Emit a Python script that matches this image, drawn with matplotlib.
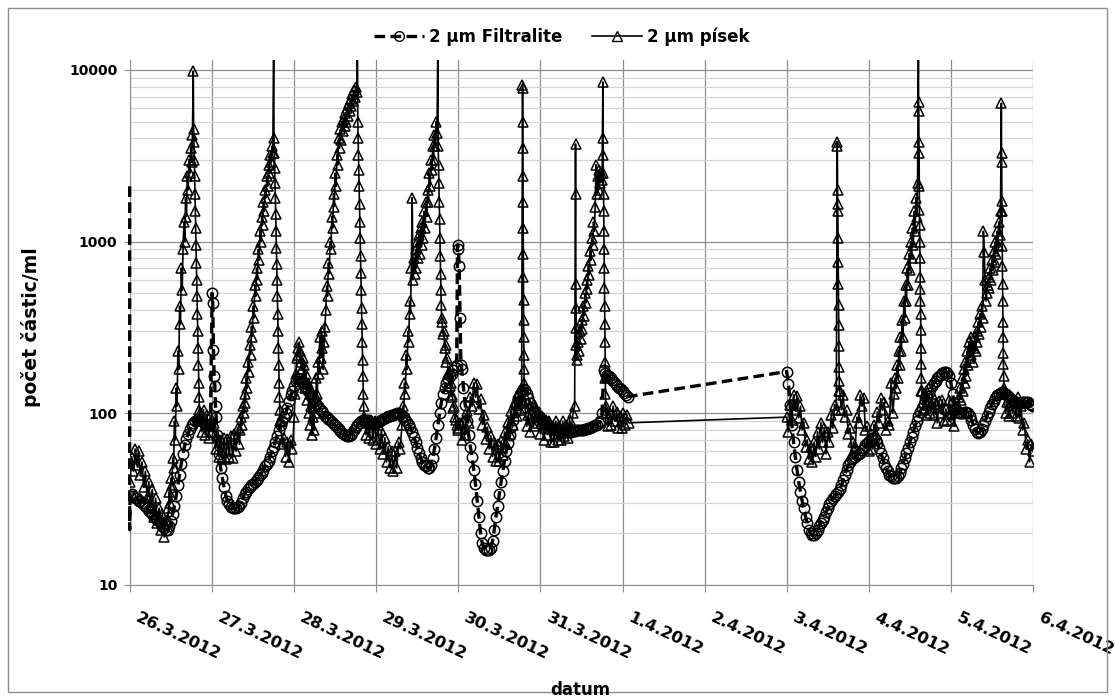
import numpy as np
import matplotlib
matplotlib.use('Agg')
import matplotlib.pyplot as plt
from matplotlib.patches import Rectangle
from matplotlib.lines import Line2D
from matplotlib.ticker import LogLocator, NullFormatter
from matplotlib.transforms import ScaledTranslation

plt.rcParams['font.family'] = ['DejaVu Sans']
plt.rcParams['font.weight'] = 'bold'

# time axis: hours from 26.3.2012 0:00
day_hours = [0, 24, 48, 72, 96, 120, 144, 168, 192, 216, 240, 264]
day_labels = ['26.3.2012', '27.3.2012', '28.3.2012', '29.3.2012', '30.3.2012', '31.3.2012',
              '1.4.2012', '2.4.2012', '3.4.2012', '4.4.2012', '5.4.2012', '6.4.2012']

# (start hour, step in minutes, values)
filtralite_seg = [
    (-0.1, 0, [2100, 21]),
    (0.0, 30, [33, 34, 33, 32, 32, 31, 31, 30, 30, 29, 28, 27, 26.5, 26, 25, 24.5, 24, 23.5, 23, 22,
               21.5, 21, 21, 22, 23.5, 26, 29, 33, 38, 44, 51, 58, 65, 71, 76, 81, 85, 88, 90, 92,
               92, 91, 90, 88, 87, 86, 85, 85]),
    (24.0, 12, [500, 440, 235, 165, 145, 110, 95]),
    (25.5, 30, [75, 58, 48, 42, 37, 33, 31, 29.5, 28.5, 28, 28, 28, 28.5, 29, 30, 32, 34, 35, 36, 37,
                38, 39, 40, 41, 42, 44, 45, 47, 49, 51, 53, 56, 60, 64, 68, 74, 80, 86, 90, 95,
                100, 108, 118, 128, 135,
                145, 155, 160, 158, 155, 150, 145, 140, 135, 130, 126, 122, 118, 114, 110, 106, 103, 100, 97, 95,
                93, 91, 89, 87, 85, 83, 81, 79, 77, 76, 75, 74, 74, 75, 77, 80, 83, 86, 88, 90,
                91, 92, 92, 91, 90, 89, 88, 88,
                88, 89, 90, 92, 93, 94, 95, 96, 97, 98, 98, 99, 100, 100, 99, 97, 95, 92, 89, 86,
                82, 78, 73, 68, 63, 59, 55, 52, 50, 49, 48, 48, 50, 55, 62, 72, 85, 100, 115, 130,
                140, 150, 158, 165, 170, 178, 185, 190]),
    (95.75, 15, [960, 900, 720, 360, 190, 180]),
    (97.5, 30, [140, 112, 90, 75, 64, 56, 47, 39, 31, 25, 20, 17.5, 16.5, 16, 16, 16, 16.5, 18, 21, 25,
                29, 34, 40, 46, 53, 60, 67, 75, 83, 92, 102, 112, 122, 130, 135, 138, 136, 130, 122, 115,
                108, 103, 100, 98, 96, 94, 92, 90, 88, 86, 84, 83, 82, 81, 80, 80, 79, 79, 78, 78,
                78, 78, 78, 78, 79, 79, 80, 80, 80, 80, 80, 81, 81, 82, 82, 83, 84, 85, 86, 88, 90]),
    (138.0, 30, [100, 178, 172, 168, 165, 160, 156, 152, 148, 145, 141, 138, 135, 132, 128, 125]),
    (192.0, 30, [175, 148, 112, 85, 68, 56, 47, 40, 35, 31, 28, 25, 23, 21, 20, 19.5, 19.5, 20, 21, 22,
                 23, 24, 25, 26.5, 28, 29.5, 31, 32, 33, 34, 35, 36, 38, 41, 44, 47, 50, 52, 54, 55,
                 56, 57, 58, 59, 61, 63, 65, 67, 69, 71, 72, 72, 70, 67, 63, 59, 55, 51, 48, 46,
                 44, 43, 42, 42, 42, 43, 45, 48, 51, 55, 59, 63, 68, 73, 78, 84, 90, 96, 102, 108,
                 114, 120, 126, 132, 138, 144, 150, 155, 160, 164, 168, 171, 173, 174, 172, 165, 150, 130, 115, 106,
                 102, 100, 100, 101, 102, 102, 100, 97, 92, 86, 81, 78, 77, 78, 81, 85, 90, 96, 102, 108,
                 113, 118, 123, 127, 130, 132, 133, 132, 130, 127, 124, 121, 119, 117, 116, 115, 115, 115, 116, 117,
                 117, 116, 114, 112, 110]),
]

pisek_seg = [
    (0.0, 30, [40, 56, 46, 62, 50, 60, 44, 52, 37, 46, 32, 40, 29, 36, 25, 32, 23, 28, 21, 26, 19, 24]),
    (11.0, 15, [24, 28, 35, 30, 42, 38, 55, 48, 90, 70, 140, 110, 230, 180, 420, 330, 700, 520, 900, 1300,
                1000, 1800, 1400, 2400, 2000, 3000, 2500, 3500, 2900, 4200]),
    (18.5, 6, [9800, 4500, 3800, 3000, 2400, 1900, 1500, 1200, 950, 750, 600, 480, 380, 300, 240, 190,
               150, 125, 105, 95]),
    (20.5, 30, [100, 78, 105, 75, 98, 72, 96, 78, 88, 62, 74, 56, 70, 55, 72, 54, 71, 56, 74, 55, 76, 60, 82, 66]),
    (32.25, 15, [80, 95, 85, 110, 100, 130, 115, 160, 140, 200, 175, 250, 220, 320, 280, 420, 360, 560, 480,
                 700, 600, 900, 780, 1150, 1000, 1400, 1250, 1700, 1500, 2000, 1800, 2400, 2100, 2800, 2500,
                 3200, 2900, 3600, 3300]),
    (42.0, 6, [15000, 4000, 3300, 2700, 2200, 1800, 1450, 1150, 920, 740, 600, 480, 380, 300, 240, 190,
               150, 125, 105, 90]),
    (44.0, 30, [90, 66, 72, 56, 68, 52, 70, 62, 95]),
    (48.25, 15, [130, 170, 210, 240, 220, 260, 230, 200, 180, 210, 160, 190, 140, 170, 120, 150, 100, 130,
                 85, 110, 75, 95, 80, 120, 100, 160, 130, 200, 170, 280, 210, 300, 240, 180, 260, 320]),
    (57.25, 15, [400, 550, 480, 750, 650, 1000, 900, 1400, 1200, 1900, 1600, 2500, 2100, 3200, 2800, 4000,
                 3500, 4500, 3900, 5000, 4400, 5200, 4700, 5600, 5000, 6000, 5400, 6400, 5800, 6800, 6200,
                 7200, 6600, 7600, 7000, 8000, 7400]),
    (66.5, 6, [14000, 5000, 4000, 3200, 2600, 2100, 1650, 1300, 1050, 830, 660, 520, 410, 330, 260, 205,
               165, 130, 110, 95]),
    (68.5, 30, [95, 75, 88, 72, 92, 70, 90, 66, 85, 62, 80, 58, 72, 52, 64, 48, 60, 46, 60, 48, 68, 62, 85]),
    (79.75, 15, [110, 95, 150, 130, 220, 180, 300, 260, 450, 380, 700, 1800, 600, 800, 650, 900, 700, 1000,
                 800, 1100, 850, 1200, 950, 1300, 1050, 1500, 1200, 1700, 1400, 2000, 1700, 2500, 2100, 3000,
                 2600, 3600, 3000, 4200, 3600, 5000, 4300]),
    (90.0, 6, [14000, 3600, 2800, 2200, 1700, 1350, 1050, 820, 650, 520, 430, 360]),
    (91.25, 15, [340, 290, 300, 240, 250, 200, 210, 170, 175, 145, 150, 125, 128, 108, 110, 95, 92, 85, 82, 80]),
    (96.5, 30, [88, 70, 90, 75, 103, 88, 125, 110, 150, 124, 148, 106, 121, 86, 98, 71, 83, 62, 74, 56,
                68, 53, 66, 53, 69, 57, 78, 66, 89, 76, 103, 86, 116, 97, 128, 104, 120]),
    (114.75, 2, [8200, 7800, 5000, 3500, 2400, 1700, 1200, 850, 620, 460, 350, 280, 220, 180, 150, 130, 115]),
    (115.5, 30, [108, 84, 98, 78, 100, 84, 110, 88, 102, 76, 90, 70, 92, 75, 90, 68, 84, 68, 90, 70, 84, 70,
                 90, 74, 86, 72, 92, 80, 100, 110]),
    (130.25, 3, [3700, 1900, 570, 410, 315, 250, 205]),
    (130.75, 15, [220, 260, 230, 300, 270, 350, 310, 420, 370, 500, 440, 600, 530, 720, 640, 880, 780, 1050,
                  950, 1300, 1150, 1600, 2800, 1900, 2400, 2000, 2600, 2200, 2500, 2300]),
    (138.25, 3, [8500, 4000, 3200, 2500, 1900, 1500, 1150, 900, 700, 540, 420, 330, 260, 200, 160, 130, 110, 100]),
    (139.25, 30, [104, 84, 100, 86, 110, 90, 102, 82, 96, 82, 100, 86, 98, 88]),
    (192.0, 30, [95, 78, 112, 92, 128, 104, 126, 94, 110, 80, 88, 64, 70, 54, 64, 52, 68, 56, 78, 62, 88, 68,
                 82, 58, 78, 68, 98, 82, 112, 105]),
    (206.75, 3, [3800, 3600, 2000, 1650, 1500, 1050, 760, 570, 430, 325, 245, 185, 155, 135]),
    (207.5, 30, [135, 105, 128, 95, 104, 76, 82, 58, 68, 62, 95, 88, 128, 110, 122, 80, 84, 60, 72, 62, 86,
                 76, 102, 88, 122, 104, 116, 80, 90, 85, 150, 100, 130]),
    (223.75, 15, [160, 140, 190, 160, 230, 190, 280, 230, 350, 280, 450, 360, 560, 450, 700, 560, 850, 680,
                  1000, 800, 1200, 950, 1500, 1150, 1800, 1400, 2200]),
    (230.5, 3, [14000, 6500, 5800, 3800, 3300, 2100, 1520, 1250, 1000, 800, 625, 530, 450, 380, 305, 240,
                195, 160, 135]),
    (231.5, 30, [135, 104, 132, 98, 118, 100, 130, 98, 114, 88, 118, 100, 120, 90, 106, 92, 120, 90, 106,
                 84, 110, 100, 125]),
    (242.75, 15, [140, 120, 160, 135, 180, 150, 200, 165, 230, 190, 260, 210, 280, 220, 250, 200, 240, 280,
                  230, 300, 260, 340, 290, 380, 320, 420, 360, 1150, 870, 600, 450, 500, 560, 620, 540, 700,
                  600, 780, 680, 880, 760, 1000, 850, 1150, 950, 1300, 1100, 1500]),
    (254.75, 3, [6400, 3300, 2900, 1730, 1500, 940, 720, 570, 450, 340, 280, 225, 195, 165, 140]),
    (255.5, 30, [130, 100, 116, 96, 124, 100, 116, 96, 124, 94, 110, 80, 88, 62, 70, 52, 66, 60]),
]


def build(segs):
    t, v = [], []
    for start, step, vals in segs:
        t += [start + i * step / 60.0 for i in range(len(vals))]
        v += list(vals)
    return np.array(t), np.array(v, dtype=float)


t_f, v_f = build(filtralite_seg)
t_p, v_p = build(pisek_seg)

grey = '#8c8c8c'
W, H = 1115, 700
fig = plt.figure(figsize=(W / 100, H / 100), dpi=100)
fig.patches.append(Rectangle((8 / W, 8 / H), 1 - 16 / W, 1 - 16 / H, transform=fig.transFigure,
                             fill=False, edgecolor=grey, lw=1))

ax = fig.add_axes([130 / W, 115 / H, 903 / W, 525.5 / H])
ax.set_yscale('log')
ax.set_ylim(10, 11500)
ax.set_xlim(0, 264)

dash = (0, (3.2, 1.6))
# filtralite: dashed line (first two points have no marker) + open circles
ax.plot(t_f, v_f, color='black', lw=2.4, linestyle=dash, clip_on=False, zorder=3)
ax.plot(t_f[2:], v_f[2:], linestyle='none', marker='o', ms=7.5, mfc='none', mec='black', mew=1.1,
        zorder=3)
# pisek: solid line + open triangles
ax.plot(t_p, v_p, color='black', lw=1.2, marker='^', ms=7.5, mfc='none', mec='black', mew=1.1, zorder=4)

ax.set_yticks([10, 100, 1000, 10000])
ax.set_yticklabels(['10', '100', '1000', '10000'])
ax.yaxis.set_minor_locator(LogLocator(base=10, subs=range(2, 10)))
ax.yaxis.set_minor_formatter(NullFormatter())
ax.set_xticks(day_hours)
ax.set_xticklabels([])

# rotated date labels, anchored a little right of and below each tick
lab_tr = ax.get_xaxis_transform() + ScaledTranslation(10 / 100, -25 / 100, fig.dpi_scale_trans)
for h, lab in zip(day_hours, day_labels):
    ax.text(h, 0, lab, transform=lab_tr, rotation=-25, rotation_mode='anchor', ha='left', va='top',
            fontsize=11.8, clip_on=False)

ax.grid(which='major', axis='y', color=grey, lw=0.9)
ax.grid(which='minor', axis='y', color='#d4d4d4', lw=0.9)
ax.grid(which='major', axis='x', color=grey, lw=0.9)
ax.set_axisbelow(True)

for s in ['top', 'right']:
    ax.spines[s].set_visible(False)
ax.spines['left'].set_bounds(10, 10000)
ax.spines['left'].set_color(grey)
ax.spines['bottom'].set_color(grey)
ax.tick_params(axis='y', which='major', direction='out', length=4, color=grey, labelsize=10, pad=5)
ax.tick_params(axis='y', which='minor', length=0)
ax.tick_params(axis='x', direction='out', length=5, color=grey)

fig.text(31 / W, 1 - 327 / H, 'počet částic/ml', rotation=90, ha='center', va='center', fontsize=13.5)
fig.text(580 / W, 1 - 690 / H, 'datum', ha='center', va='center', fontsize=12)

handles = [
    Line2D([], [], color='black', lw=2.4, linestyle=dash, marker='o', ms=7, mfc='none', mec='black', mew=1.0),
    Line2D([], [], color='black', lw=1.2, marker='^', ms=7.5, mfc='none', mec='black', mew=1.0),
]
fig.legend(handles, ['2 µm Filtralite', '2 µm písek'], loc='center', bbox_to_anchor=(562 / W, 1 - 37 / H),
           ncol=2, frameon=False, fontsize=12, handlelength=3.0, columnspacing=1.8, handletextpad=0.3)

fig.savefig('out.png', dpi=100)
